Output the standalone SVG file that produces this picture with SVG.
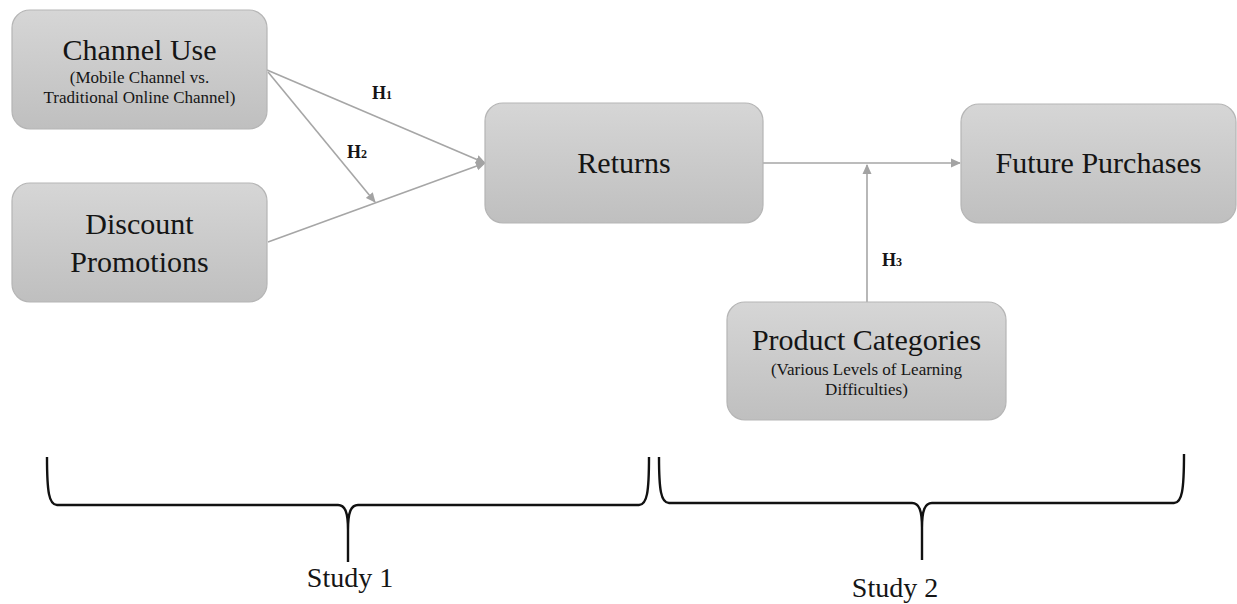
<svg xmlns="http://www.w3.org/2000/svg" width="1237" height="604" viewBox="0 0 1237 604">
<defs>
<linearGradient id="boxg" x1="0" y1="0" x2="0" y2="1">
<stop offset="0" stop-color="#d6d6d6"/>
<stop offset="1" stop-color="#bfbfbf"/>
</linearGradient>
<marker id="arr" markerWidth="10" markerHeight="10" refX="9" refY="5" orient="auto" markerUnits="userSpaceOnUse">
<path d="M0,0.5 L10,5 L0,9.5 Z" fill="#a3a3a3"/>
</marker>
<style>
.box{fill:url(#boxg);stroke:#b5b5b5;stroke-width:1.2}
.t{font-family:"Liberation Serif","Times New Roman",serif;fill:#151515;text-anchor:middle}
.big{font-size:30px}
.small{font-size:17px}
.h{font-family:"Liberation Serif","Times New Roman",serif;font-weight:bold;font-size:18px;fill:#151515}
.sub{font-size:12px}
.edge{stroke:#a6a6a6;stroke-width:1.6;fill:none}
.brace{stroke:#111;stroke-width:2.4;fill:none;stroke-linejoin:round}
.st{font-family:"Liberation Serif","Times New Roman",serif;font-size:28px;fill:#151515;text-anchor:middle}
</style>
</defs>
<rect width="1237" height="604" fill="#ffffff"/>

<g id="connectors">
<line class="edge" x1="267" y1="70" x2="485" y2="163" marker-end="url(#arr)"/>
<line class="edge" x1="268" y1="72" x2="375" y2="202" marker-end="url(#arr)"/>
<line class="edge" x1="268" y1="242" x2="485" y2="163" marker-end="url(#arr)"/>
<line class="edge" x1="763" y1="163" x2="960" y2="163" marker-end="url(#arr)"/>
<line class="edge" x1="867" y1="302" x2="867" y2="165" marker-end="url(#arr)"/>
<text class="h" x="372" y="99">H<tspan class="sub">1</tspan></text>
<text class="h" x="347" y="158">H<tspan class="sub">2</tspan></text>
<text class="h" x="882" y="266">H<tspan class="sub">3</tspan></text>
</g>

<g id="channel-use">
<rect class="box" x="12" y="10" width="255" height="119" rx="18"/>
<text class="t big" x="139.5" y="60">Channel Use</text>
<text class="t small" x="139.5" y="83">(Mobile Channel vs.</text>
<text class="t small" x="139.5" y="103">Traditional Online Channel)</text>
</g>

<g id="discount-promotions">
<rect class="box" x="12" y="183" width="255" height="119" rx="18"/>
<text class="t big" x="139.5" y="234">Discount</text>
<text class="t big" x="139.5" y="272">Promotions</text>
</g>

<g id="returns">
<rect class="box" x="485" y="103" width="278" height="120" rx="18"/>
<text class="t big" x="624" y="173">Returns</text>
</g>

<g id="future-purchases">
<rect class="box" x="961" y="104" width="275" height="119" rx="18"/>
<text class="t big" x="1098.5" y="173">Future Purchases</text>
</g>

<g id="product-categories">
<rect class="box" x="727" y="302" width="279" height="118" rx="18"/>
<text class="t big" x="866.5" y="350">Product Categories</text>
<text class="t small" x="866.5" y="375">(Various Levels of Learning</text>
<text class="t small" x="866.5" y="395">Difficulties)</text>
</g>

<g id="study-1">
<path class="brace" d="M47,457 C47,492 49,505 57,505 L338,505 C345,505 348,512 348,530 L348,562 M348,530 C348,512 351,505 358,505 L639,505 C647,505 649,492 649,457"/>
<text class="st" x="350" y="587">Study 1</text>
</g>

<g id="study-2">
<path class="brace" d="M659,457 C659,490 661,503 669,503 L912,503 C919,503 922,510 922,528 L922,560 M922,528 C922,510 925,503 932,503 L1174,503 C1182,503 1184,490 1184,454"/>
<text class="st" x="895" y="597">Study 2</text>
</g>
</svg>
